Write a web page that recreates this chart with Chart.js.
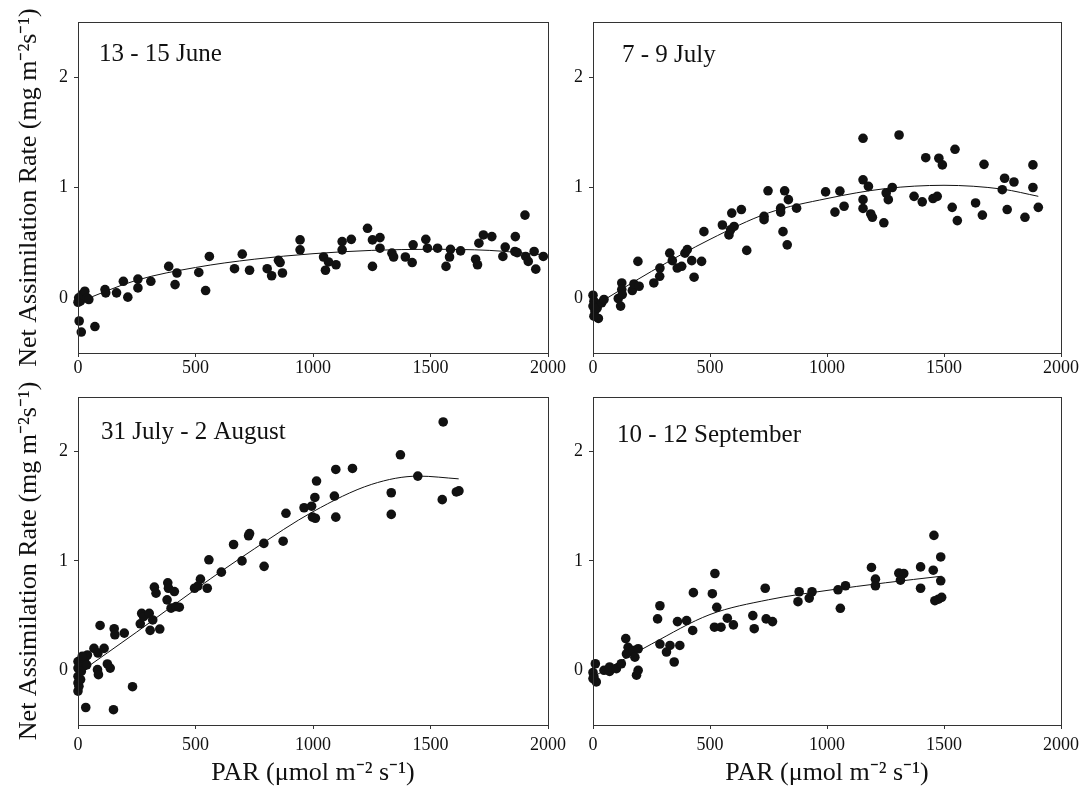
<!DOCTYPE html>
<html lang="en">
<head>
<meta charset="UTF-8">
<title>Net Assimilation Rate vs PAR</title>
<script src="https://cdn.jsdelivr.net/npm/chart.js@4.4.0/dist/chart.umd.min.js"></script>
<style>
    body { margin: 0; background: #fff; }
    #wrap { position: relative; width: 1086px; height: 789px; overflow: hidden; }
    #wrap canvas { position: absolute; }
</style>
</head>
<body>
<div id="wrap">
    <canvas id="june"></canvas>
    <canvas id="july"></canvas>
    <canvas id="august"></canvas>
    <canvas id="september"></canvas>
</div>
<script>
// axis ticks and titles
const parTicks = [0, 500, 1000, 1500, 2000];
const narTicks = [0, 1, 2];
const yTitle = 'Net Assimilation Rate (mg m\u207B\u00B2s\u207B\u00B9)';
const xTitle = 'PAR (\u03BCmol m\u207B\u00B2 s\u207B\u00B9)';
const panelLabels = ['13 - 15 June', '7 - 9 July', '31 July - 2 August', '10 - 12 September'];

const juneObs = [
    [0,-0.04],[3,0.0],[10,-0.03],[17,0.03],[29,0.06],[39,0.0],[46,-0.015],[5,-0.21],[14,-0.31],[72,-0.26],
    [115,0.075],[118,0.045],[164,0.045],[193,0.15],[212,0.006],[255,0.17],[255,0.09],[310,0.15],[386,0.285],
    [413,0.12],[421,0.225],[514,0.23],[543,0.066],[559,0.375],[666,0.264],[699,0.396],[730,0.25],[805,0.264],
    [824,0.2],[853,0.34],[860,0.32],[870,0.225],[945,0.525],[945,0.435],[1045,0.37],[1053,0.25],[1066,0.325],
    [1098,0.3],[1124,0.51],[1124,0.435],[1163,0.53],[1232,0.63],[1253,0.525],[1253,0.285],[1285,0.546],
    [1285,0.45],[1336,0.405],[1343,0.37],[1393,0.37],[1422,0.32],[1426,0.48],[1480,0.53],[1487,0.45],
    [1530,0.45],[1566,0.285],[1581,0.37],[1585,0.44],[1628,0.426],[1692,0.35],[1700,0.3],[1706,0.495],
    [1725,0.57],[1761,0.555],[1808,0.375],[1818,0.46],[1861,0.555],[1859,0.42],[1869,0.41],[1902,0.75],
    [1905,0.375],[1916,0.33],[1941,0.42],[1948,0.26],[1980,0.375]
];
const julyObs = [
    [0,0.024],[4,-0.03],[0,-0.075],[8,-0.12],[23,-0.187],[4,-0.166],[18,-0.09],[37,-0.045],[47,-0.015],
    [108,-0.006],[123,0.135],[123,0.075],[118,-0.075],[125,0.03],[168,0.066],[175,0.126],[197,0.105],
    [192,0.33],[260,0.135],[285,0.195],[286,0.27],[328,0.405],[339,0.337],[360,0.27],[379,0.286],[393,0.405],
    [403,0.437],[422,0.337],[432,0.187],[464,0.33],[474,0.6],[553,0.66],[581,0.57],[588,0.617],[603,0.647],
    [593,0.768],[634,0.8],[657,0.43],[731,0.738],[731,0.708],[748,0.97],[802,0.813],[802,0.777],[819,0.97],
    [835,0.89],[812,0.6],[830,0.48],[870,0.813],[994,0.96],[1034,0.777],[1055,0.967],[1073,0.83],
    [1154,1.446],[1154,1.07],[1177,1.01],[1154,0.89],[1154,0.81],[1187,0.76],[1194,0.73],[1243,0.68],
    [1253,0.95],[1262,0.89],[1279,1.0],[1308,1.476],[1372,0.92],[1407,0.87],[1422,1.27],[1453,0.9],
    [1471,0.92],[1478,1.265],[1493,1.205],[1535,0.82],[1547,1.346],[1557,0.7],[1635,0.86],[1664,0.75],
    [1671,1.21],[1749,0.98],[1759,1.084],[1799,1.05],[1770,0.8],[1846,0.73],[1880,1.205],[1880,1.0],[1903,0.82]
];
const augustObs = [
    [0,0.08],[0,0.02],[0,-0.055],[0,-0.115],[0,-0.19],[4,-0.146],[11,-0.085],[14,-0.01],[23,0.036],[11,0.08],
    [28,0.1],[40,0.14],[18,0.128],[33,-0.34],[37,0.05],[68,0.2],[85,0.158],[94,0.41],[111,0.2],[83,0.006],
    [87,-0.04],[125,0.058],[137,0.02],[151,-0.36],[154,0.38],[157,0.325],[197,0.34],[232,-0.15],[265,0.425],
    [271,0.52],[279,0.49],[303,0.52],[307,0.365],[318,0.46],[325,0.76],[332,0.705],[348,0.377],[382,0.8],
    [385,0.75],[379,0.644],[410,0.72],[396,0.568],[417,0.583],[431,0.577],[496,0.75],[510,0.77],[521,0.833],
    [550,0.75],[557,1.01],[610,0.897],[662,1.15],[698,1.0],[726,1.23],[730,1.25],[791,1.16],[792,0.95],
    [873,1.18],[885,1.435],[962,1.486],[994,1.5],[1008,1.58],[998,1.4],[1010,1.39],[1015,1.73],[1097,1.836],
    [1091,1.593],[1097,1.4],[1168,1.845],[1333,1.623],[1333,1.425],[1372,1.97],[1446,1.775],[1554,2.27],
    [1550,1.56],[1610,1.63],[1621,1.64]
];
const septemberObs = [
    [0,-0.02],[10,0.06],[4,-0.06],[14,-0.106],[0,-0.076],[47,0],[71,-0.01],[71,0.03],[100,0.015],[121,0.06],
    [140,0.29],[150,0.21],[143,0.15],[171,0.18],[179,0.12],[193,0.197],[186,-0.045],[193,0],[276,0.47],
    [286,0.59],[286,0.24],[314,0.167],[329,0.227],[347,0.076],[371,0.227],[361,0.445],[400,0.455],[426,0.364],
    [429,0.71],[510,0.7],[521,0.885],[529,0.576],[519,0.394],[547,0.394],[574,0.476],[600,0.415],[683,0.5],
    [689,0.38],[736,0.75],[740,0.47],[767,0.445],[876,0.627],[881,0.718],[924,0.66],[936,0.718],[1047,0.736],
    [1057,0.567],[1079,0.773],[1190,0.94],[1207,0.833],[1207,0.773],[1307,0.888],[1328,0.885],[1314,0.824],
    [1400,0.945],[1400,0.75],[1457,1.233],[1454,0.915],[1486,1.036],[1486,0.818],[1461,0.636],[1476,0.65],[1490,0.667]
];

// fitted curves, sampled off the figure
const juneFit = [[0,-0.04],[250,0.16],[500,0.275],[750,0.35],[1000,0.4],[1250,0.43],[1500,0.44],[1750,0.43],[1980,0.39]];
const julyFit = [[0,-0.08],[250,0.24],[500,0.53],[750,0.77],[1000,0.9],[1250,0.99],[1500,1.02],[1750,0.985],[1903,0.92]];
const augustFit = [[0,-0.03],[250,0.35],[500,0.74],[750,1.11],[1000,1.45],[1250,1.7],[1450,1.775],[1620,1.75]];
const septemberFit = [[0,-0.06],[250,0.24],[500,0.51],[750,0.645],[1000,0.73],[1250,0.8],[1490,0.86]];

const ink = '#111';
const serif = "'Liberation Serif', 'Times New Roman', serif";

const panels = [
    { id: 'june', obs: juneObs, fit: juneFit, label: panelLabels[0], left: 0, top: 0, w: 580, h: 380,
      padTop: 22, padRight: 32, yWidth: 78, xHeight: 27, xPad: 0, showY: true, showX: false, lx: 21, ly: 39 },
    { id: 'july', obs: julyObs, fit: julyFit, label: panelLabels[1], left: 555, top: 0, w: 531, h: 380,
      padTop: 22, padRight: 25, yWidth: 38, xHeight: 27, xPad: 0, showY: false, showX: false, lx: 29, ly: 40 },
    { id: 'august', obs: augustObs, fit: augustFit, label: panelLabels[2], left: 0, top: 380, w: 580, h: 409,
      padTop: 14, padRight: 32, yWidth: 78, xHeight: 64, xPad: 5, showY: true, showX: true, lx: 23, ly: 42 },
    { id: 'september', obs: septemberObs, fit: septemberFit, label: panelLabels[3], left: 555, top: 380, w: 531, h: 409,
      padTop: 14, padRight: 25, yWidth: 38, xHeight: 64, xPad: 5, showY: false, showX: true, lx: 24, ly: 45 }
];

function toXY(pairs) {
    return pairs.map(([x, y]) => ({ x, y }));
}

function drawPanel(p) {
    const cv = document.getElementById(p.id);
    cv.width = p.w;
    cv.height = p.h;
    cv.style.left = p.left + 'px';
    cv.style.top = p.top + 'px';

    // box around the plot area plus the date label
    const frame = {
        id: 'frame',
        afterDraw(chart) {
            const { ctx, chartArea: a } = chart;
            ctx.save();
            ctx.strokeStyle = '#333';
            ctx.lineWidth = 1;
            ctx.strokeRect(Math.round(a.left) + 0.5, Math.round(a.top) + 0.5,
                Math.round(a.right - a.left), Math.round(a.bottom - a.top));
            ctx.fillStyle = ink;
            ctx.font = '25px ' + serif;
            ctx.textBaseline = 'alphabetic';
            ctx.fillText(p.label, a.left + p.lx, a.top + p.ly);
            ctx.restore();
        }
    };

    const tickFont = { family: serif, size: 18 };
    const plain = v => String(v);

    new Chart(cv, {
        type: 'scatter',
        data: {
            datasets: [
                {
                    data: toXY(p.obs),
                    pointRadius: 4.8,
                    pointBackgroundColor: ink,
                    pointBorderWidth: 0,
                    clip: false
                },
                {
                    type: 'line',
                    data: toXY(p.fit),
                    showLine: true,
                    borderColor: ink,
                    borderWidth: 1,
                    pointRadius: 0,
                    fill: false,
                    cubicInterpolationMode: 'monotone',
                    clip: false
                }
            ]
        },
        options: {
            responsive: false,
            animation: false,
            events: [],
            layout: { padding: { top: p.padTop, right: p.padRight, left: 0, bottom: 0 } },
            plugins: { legend: { display: false }, tooltip: { enabled: false } },
            scales: {
                x: {
                    type: 'linear',
                    min: 0,
                    max: 2000,
                    afterBuildTicks: s => { s.ticks = parTicks.map(v => ({ value: v })); },
                    afterFit: s => { s.height = p.xHeight; },
                    grid: { drawOnChartArea: false, drawTicks: true, tickLength: 4, color: '#333' },
                    border: { display: false },
                    ticks: { font: tickFont, color: ink, padding: p.xPad, maxRotation: 0, autoSkip: false, callback: plain },
                    title: {
                        display: p.showX,
                        text: xTitle,
                        color: ink,
                        font: { family: serif, size: 26 },
                        padding: { top: 0, bottom: 0 }
                    }
                },
                y: {
                    min: -0.5,
                    max: 2.5,
                    afterBuildTicks: s => { s.ticks = narTicks.map(v => ({ value: v })); },
                    afterFit: s => { s.width = p.yWidth; },
                    grid: { drawOnChartArea: false, drawTicks: true, tickLength: 4, color: '#333' },
                    border: { display: false },
                    ticks: { font: tickFont, color: ink, padding: 6, callback: plain },
                    title: {
                        display: p.showY,
                        text: yTitle,
                        color: ink,
                        font: { family: serif, size: 26 },
                        padding: { top: 14, bottom: 0 }
                    }
                }
            }
        },
        plugins: [frame]
    });
}

panels.forEach(drawPanel);
</script>
</body>
</html>
